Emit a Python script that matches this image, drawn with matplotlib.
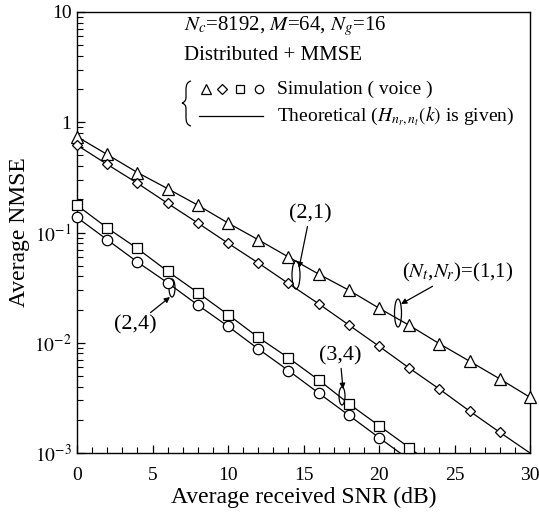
import numpy as np
import matplotlib
matplotlib.use("Agg")
import matplotlib.pyplot as plt
from matplotlib.patches import Ellipse, PathPatch
from matplotlib.path import Path
from matplotlib.ticker import FuncFormatter, MultipleLocator

plt.rcParams['font.family'] = ['Liberation Serif', 'DejaVu Serif']
plt.rcParams['mathtext.fontset'] = 'stix'

# SNR points (dB)
snr = [0, 2, 4, 6, 8, 10, 12, 14, 16, 18, 20, 22, 24, 26, 28, 30]

# simulated NMSE
sim_11 = [0.74, 0.51, 0.35, 0.25, 0.177, 0.122, 0.086, 0.060, 0.042, 0.030,
          0.0206, 0.0144, 0.0098, 0.0068, 0.0047, 0.0032]
sim_21 = [0.62, 0.415, 0.28, 0.184, 0.122, 0.080, 0.053, 0.0345, 0.0226, 0.0145,
          0.0093, 0.0059, 0.0038, 0.0024, 0.00154]
snr_34 = [0, 2, 4, 6, 8, 10, 12, 14, 16, 18, 20, 22]
sim_34 = [0.177, 0.11, 0.0716, 0.0445, 0.0285, 0.018, 0.0112, 0.0073, 0.0046,
          0.0028, 0.00177, 0.00112]
snr_24 = [0, 2, 4, 6, 8, 10, 12, 14, 16, 18, 20]
sim_24 = [0.137, 0.086, 0.054, 0.035, 0.022, 0.0141, 0.0088, 0.0056, 0.0035,
          0.0022, 0.00138]

# theoretical curves (same points, continued to the bottom of the axis)
th_11 = sim_11
th_21 = sim_21 + [0.001]
snr_34_th = snr_34 + [24]
th_34 = sim_34 + [0.00069]
snr_24_th = snr_24 + [22]
th_24 = sim_24 + [0.00087]

fig = plt.figure(figsize=(5.39, 5.16), dpi=100)
ax = fig.add_axes([77 / 539, 1 - 453 / 516, 453 / 539, 441 / 516])

kw = dict(color='black', lw=0.9)
ax.plot(snr, th_11, **kw)
ax.plot(snr[:len(th_21)], th_21, **kw)
ax.plot(snr_34_th, th_34, **kw)
ax.plot(snr_24_th, th_24, **kw)

mk = dict(linestyle='none', mfc='white', mec='black', mew=0.9)
ax.plot(snr, sim_11, marker='^', ms=8, clip_on=False, zorder=4, **mk)
ax.plot(snr[:len(sim_21)], sim_21, marker='D', ms=5.5, clip_on=False, zorder=4, **mk)
ax.plot(snr_34, sim_34, marker='s', ms=7, clip_on=False, zorder=4, **mk)
ax.plot(snr_24, sim_24, marker='o', ms=7.5, clip_on=False, zorder=4, **mk)

ax.set_yscale('log')
ax.set_xlim(0, 30)
ax.set_ylim(1e-3, 10)


def yfmt(v, pos):
    if v >= 10:
        return '10'
    if v >= 1:
        return '1'
    return r'$10^{%d}$' % int(round(np.log10(v)))


ax.yaxis.set_major_formatter(FuncFormatter(yfmt))
ax.xaxis.set_major_locator(MultipleLocator(5))
ax.xaxis.set_minor_locator(MultipleLocator(1))
ax.tick_params(which='both', direction='in', labelsize=14, top=False, right=False)
ax.tick_params(which='major', length=6, width=0.9)
ax.tick_params(which='minor', length=4, width=0.8)
ax.tick_params(axis='x', pad=10)
ax.tick_params(axis='y', pad=4)
for s in ax.spines.values():
    s.set_linewidth(1.0)

ax.set_xlabel('Average received SNR (dB)', fontsize=17, labelpad=2)
ax.set_ylabel('Average NMSE', fontsize=17, labelpad=3)


def pa(px, py):
    # image pixel -> axes fraction
    return ((px - 77) / 453, (453 - py) / 441)


ax.text(*pa(184, 26), r'$N_c$=8192, $M$=64, $N_g$=16', transform=ax.transAxes,
        fontsize=15, va='center', ha='left')
ax.text(*pa(184, 56), 'Distributed + MMSE', transform=ax.transAxes,
        fontsize=15, va='center', ha='left')

# legend-like block with a thin brace
brace_px = [(191, 81), (187, 82), (186, 85), (186, 90), (186, 97),
            (186, 100), (185, 102), (182, 103), (185, 104), (186, 106),
            (186, 109), (186, 117), (186, 122), (187, 125), (191, 126)]
codes = [Path.MOVETO, Path.CURVE4, Path.CURVE4, Path.CURVE4, Path.LINETO,
         Path.CURVE4, Path.CURVE4, Path.CURVE4, Path.CURVE4, Path.CURVE4,
         Path.CURVE4, Path.LINETO, Path.CURVE4, Path.CURVE4, Path.CURVE4]
brace = Path([pa(x, y) for x, y in brace_px], codes)
ax.add_patch(PathPatch(brace, transform=ax.transAxes, fill=False, lw=0.9,
                       ec='black'))
for x0, m, s in [(206, '^', 7), (222, 'D', 5), (240, 's', 6), (259, 'o', 6)]:
    ax.plot(*pa(x0, 89), marker=m, ms=s, transform=ax.transAxes, clip_on=False,
            **mk)
ax.plot([pa(199, 116)[0], pa(263, 116)[0]], [pa(199, 116)[1]] * 2,
        transform=ax.transAxes, **kw)
ax.text(*pa(277, 89), 'Simulation ( voice )', transform=ax.transAxes,
        fontsize=14, va='center', ha='left')
ax.text(*pa(277, 116), r'Theoretical ($H_{n_r,n_t}(k)$ is given)',
        transform=ax.transAxes, fontsize=14, va='center', ha='left')

# ellipses marking groups of curves
for cx, cy, w, h in [(296, 275, 8, 28), (398, 313, 7, 28),
                     (172, 288, 6, 18), (342, 396, 6, 18)]:
    e = Ellipse(pa(cx, cy), w / 453, h / 441, transform=ax.transAxes,
                fill=False, lw=0.9, ec='black')
    ax.add_patch(e)

ap = dict(arrowstyle='-|>', color='black', lw=0.9, mutation_scale=8,
          shrinkA=0, shrinkB=0)
ax.annotate('(2,1)', xy=pa(299, 268), xytext=pa(310, 214),
            xycoords='axes fraction', textcoords='axes fraction',
            fontsize=16, ha='center', va='center', arrowprops=ap)
ax.annotate(r'($N_t$,$N_r$)=(1,1)', xy=pa(401, 304), xytext=pa(458, 272),
            xycoords='axes fraction', textcoords='axes fraction',
            fontsize=15, ha='center', va='center', arrowprops=ap)
ax.annotate('(2,4)', xy=pa(170, 297), xytext=pa(135, 325),
            xycoords='axes fraction', textcoords='axes fraction',
            fontsize=16, ha='center', va='center', arrowprops=ap)
ax.annotate('(3,4)', xy=pa(343, 389), xytext=pa(340, 356),
            xycoords='axes fraction', textcoords='axes fraction',
            fontsize=16, ha='center', va='center', arrowprops=ap)

plt.savefig('out.png', dpi=100)
